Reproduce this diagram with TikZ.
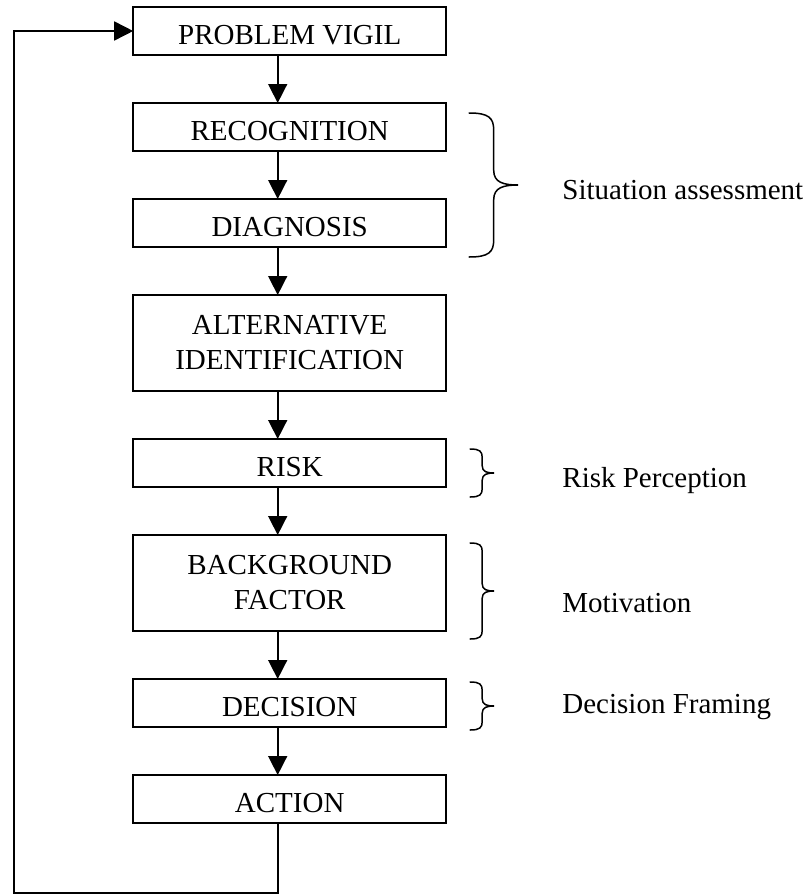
\documentclass[tikz,border=0pt]{standalone}
\usepackage{fontspec}
\setmainfont{Liberation Serif}
\usepackage{tikz}
\usetikzlibrary{arrows.meta,positioning,calc}
\tikzset{
  >=Stealth,
  every node/.append style={font=\fontsize{29pt}{35pt}\selectfont},
}
\tikzset{
  curly/.style={line width=1.5pt, line cap=round},
}
% right curly brace between two points
\newcommand\rightbrace[3]{%
  \draw[curly] let \p1=(#1), \p2=(#2), \p3=($(#1)!0.5!(#2)$) in
    (\p1) .. controls +(0.4*#3,0) and +(0,0.25*#3) .. (\x1+0.5*#3,\y1-0.35*#3)
    -- (\x1+0.5*#3,\y3+0.3*#3)
    .. controls +(0,-0.25*#3) and +(-0.3*#3,0) .. (\x1+#3,\y3)
    .. controls +(-0.3*#3,0) and +(0,0.25*#3) .. (\x1+0.5*#3,\y3-0.3*#3)
    -- (\x1+0.5*#3,\y2+0.35*#3)
    .. controls +(0,-0.25*#3) and +(0.4*#3,0) .. (\p2);
}

\begin{document}
\begin{tikzpicture}[
    node distance=48pt,
    stage/.style={
        rectangle,
        draw,
        line width=1.6pt,
        minimum width=313pt,
        minimum height=48pt,
        inner sep=0pt,
        outer sep=0pt,
        text height=26pt,
        text depth=0pt
    },
    tallstage/.style={
        rectangle,
        draw,
        line width=1.6pt,
        minimum width=313pt,
        minimum height=96pt,
        inner sep=0pt,
        outer sep=0pt,
        align=center
    },
    phase/.style={anchor=base west, inner sep=0pt},
    arrow/.style={
        -{Triangle[length=19pt,width=19pt]},
        line width=1.6pt
    }
]
\useasboundingbox (0,0) rectangle (811pt,-894pt);

% Nodes
\node[stage] (vigil) at (289.7pt,-31pt) {PROBLEM VIGIL};
\node[stage, below=of vigil] (recog) {RECOGNITION};
\node[stage, below=of recog] (diag) {DIAGNOSIS};
\node[tallstage, below=of diag] (altid) {ALTERNATIVE\\IDENTIFICATION};
\node[stage, below=of altid] (risk) {RISK};
\node[tallstage, below=of risk] (backgr) {BACKGROUND\\FACTOR};
\node[stage, below=of backgr] (decis) {DECISION};
\node[stage, below=of decis] (action) {ACTION};

% Side notes
\node[phase] (sitnote) at ($(diag.north east)+(116pt,0)$) {Situation assessment};
\node[phase] (risknote) at ($(risk.south east)+(116pt,0)$) {Risk Perception};
\node[phase] (motnote) at ($(backgr.south east)+(116pt,19pt)$) {Motivation};
\node[phase] (decnote) at ($(decis.south east)+(116pt,14pt)$) {Decision Framing};

% Coordinates
\coordinate (spine) at ($(vigil.south)+(-12pt,0)$);
\coordinate (loopcorner) at ($(action.south west)+(-119pt,-70pt)$);
\coordinate (sit top) at ($(recog.north east)+(23pt,-10pt)$);
\coordinate (sit bot) at ($(diag.south east)+(23pt,-10pt)$);
\coordinate (risk top) at ($(risk.north east)+(24pt,-10pt)$);
\coordinate (risk bot) at ($(risk.south east)+(24pt,-10pt)$);
\coordinate (mot top) at ($(backgr.north east)+(24pt,-8pt)$);
\coordinate (mot bot) at ($(backgr.south east)+(24pt,-8pt)$);
\coordinate (dec top) at ($(decis.north east)+(24pt,-3pt)$);
\coordinate (dec bot) at ($(decis.south east)+(24pt,-3pt)$);

% Arrows
\draw[arrow] (vigil.south -| spine) -- (recog.north -| spine);
\draw[arrow] (recog.south -| spine) -- (diag.north -| spine);
\draw[arrow] (diag.south -| spine) -- (altid.north -| spine);
\draw[arrow] (altid.south -| spine) -- (risk.north -| spine);
\draw[arrow] (risk.south -| spine) -- (backgr.north -| spine);
\draw[arrow] (backgr.south -| spine) -- (decis.north -| spine);
\draw[arrow] (decis.south -| spine) -- (action.north -| spine);
\draw[arrow] (action.south -| spine) |- (loopcorner) |- (vigil.west);

% Braces
\rightbrace{sit top}{sit bot}{49pt}
\rightbrace{risk top}{risk bot}{24pt}
\rightbrace{mot top}{mot bot}{24pt}
\rightbrace{dec top}{dec bot}{24pt}

\end{tikzpicture}
\end{document}
